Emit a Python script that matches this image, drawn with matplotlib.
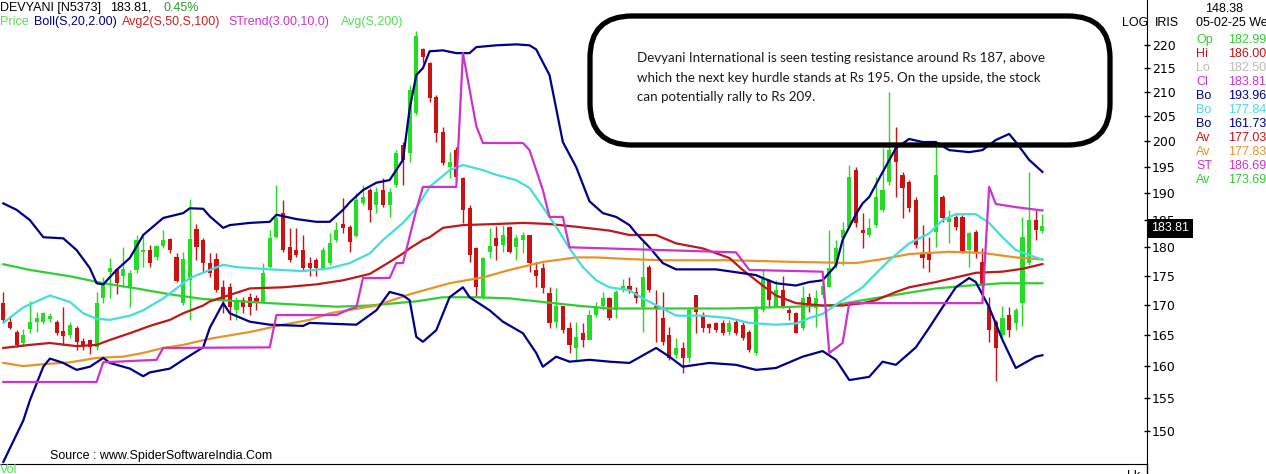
import matplotlib
matplotlib.use("agg")
import matplotlib.pyplot as plt
from matplotlib.patches import FancyBboxPatch
from matplotlib.lines import Line2D
from matplotlib.transforms import IdentityTransform
from matplotlib.ticker import NullLocator

# daily candles (oldest -> 05-02-25)
opens = [170.3, 167.2, 165.5, 163.7, 166.0, 167.2, 167.2, 167.7, 167.2, 165.6,
         165.0, 166.2, 164.0, 164.2, 163.0, 171.1, 175.7, 176.1, 175.0, 173.0,
         176.0, 179.2, 179.5, 178.2, 180.2, 181.5, 178.2, 170.3, 174.2, 183.3,
         181.3, 177.2, 178.0, 173.0, 173.0, 169.1, 170.8, 171.3, 171.1, 170.5,
         176.5, 181.8, 186.2, 180.0, 179.5, 179.5, 177.2, 177.7, 176.3, 177.2,
         181.3, 184.2, 183.7, 182.0, 188.1, 190.5, 187.7, 190.5, 187.7, 191.5,
         199.2, 197.6, 205.6, 219.0, 216.1, 208.9, 201.8, 194.9, 198.2, 192.8,
         187.1, 179.8, 171.1, 179.2, 181.6, 180.4, 183.7, 180.0, 181.3, 182.2,
         176.0, 176.3, 172.0, 167.2, 169.9, 166.2, 162.9, 165.3, 164.2, 168.3,
         169.9, 171.1, 169.1, 172.5, 173.3, 172.2, 169.6, 176.5, 169.9, 167.8,
         165.0, 161.8, 162.9, 161.3, 171.6, 168.3, 166.8, 166.9, 167.0, 165.5,
         167.2, 166.7, 165.5, 162.1, 169.1, 174.2, 169.6, 172.5, 169.1, 168.6,
         166.2, 171.3, 169.4, 171.6, 173.0, 176.9, 181.6, 183.7, 194.3, 183.1,
         182.2, 184.0, 186.8, 192.0, 198.6, 193.4, 192.0, 188.6, 178.9, 178.9,
         182.7, 189.2, 184.6, 185.5, 185.5, 179.5, 182.7, 177.4, 169.6, 167.2,
         165.0, 168.3, 167.0, 170.3, 177.2, 185.0, 182.99]
highs = [172.2, 168.2, 165.8, 166.0, 170.6, 168.8, 168.8, 168.6, 167.5, 169.6,
         167.2, 166.5, 164.5, 164.3, 172.2, 174.7, 178.1, 176.3, 180.0, 176.0,
         182.2, 182.0, 180.4, 180.4, 183.1, 181.6, 178.9, 179.1, 188.8, 184.2,
         181.6, 179.0, 179.0, 174.2, 173.7, 171.3, 171.3, 172.0, 171.6, 177.2,
         183.1, 191.5, 188.6, 183.5, 183.5, 182.2, 178.2, 178.1, 180.0, 182.5,
         184.6, 189.0, 184.0, 190.0, 191.5, 190.9, 191.1, 192.8, 190.9, 198.2,
         199.8, 211.5, 223.0, 219.4, 216.3, 209.4, 202.8, 197.8, 198.8, 193.0,
         187.7, 180.0, 178.2, 183.5, 183.9, 184.0, 183.9, 182.2, 182.7, 182.2,
         177.4, 177.2, 173.0, 172.9, 169.9, 167.2, 167.2, 167.0, 169.1, 170.5,
         172.2, 171.3, 172.5, 174.5, 174.8, 173.0, 181.3, 176.8, 172.5, 172.2,
         166.3, 164.5, 163.9, 169.4, 171.6, 168.8, 167.0, 167.2, 167.5, 167.5,
         167.5, 167.2, 165.8, 169.9, 176.0, 174.5, 174.2, 175.0, 169.9, 168.8,
         173.3, 172.0, 172.5, 174.2, 183.1, 181.3, 184.6, 195.3, 194.9, 186.2,
         185.3, 193.0, 198.6, 210.0, 202.8, 193.9, 192.4, 189.2, 184.0, 181.8,
         199.6, 189.6, 186.8, 185.9, 185.9, 182.7, 183.1, 179.8, 171.3, 167.5,
         169.9, 169.6, 169.4, 185.5, 193.9, 186.8, 186.00]
lows = [167.2, 166.0, 163.0, 163.2, 165.3, 165.5, 166.8, 167.2, 165.0, 163.4,
        164.5, 162.6, 162.6, 162.0, 162.6, 170.3, 171.1, 171.8, 173.0, 169.6,
        175.5, 176.5, 176.5, 177.7, 179.8, 178.9, 173.9, 170.0, 167.5, 177.7,
        175.5, 174.7, 172.2, 168.6, 167.5, 167.5, 168.6, 168.3, 169.1, 170.3,
        176.3, 181.6, 179.1, 177.4, 178.2, 176.0, 175.0, 175.0, 176.0, 176.8,
        181.0, 182.5, 179.1, 181.8, 187.7, 184.5, 186.2, 187.3, 185.5, 191.1,
        191.5, 195.9, 205.3, 216.1, 207.9, 199.8, 195.3, 192.8, 192.4, 184.3,
        177.4, 171.3, 171.0, 178.1, 177.7, 179.2, 178.9, 177.7, 178.9, 175.7,
        173.0, 172.0, 166.2, 166.2, 165.3, 162.1, 160.7, 163.0, 164.2, 168.0,
        169.1, 167.5, 167.8, 172.2, 172.0, 170.3, 165.5, 172.2, 163.9, 163.4,
        161.0, 161.3, 158.9, 160.7, 165.3, 165.5, 165.3, 165.5, 165.0, 165.0,
        165.0, 164.2, 162.3, 161.8, 168.8, 169.6, 169.6, 169.4, 167.5, 165.3,
        165.8, 168.8, 166.3, 171.1, 173.0, 176.3, 176.9, 183.5, 183.7, 179.8,
        181.8, 183.7, 186.4, 191.5, 189.2, 185.3, 186.4, 179.8, 176.3, 175.7,
        180.0, 184.6, 180.7, 183.1, 178.9, 176.5, 178.1, 172.0, 163.9, 157.6,
        164.5, 164.7, 165.8, 166.5, 176.8, 181.3, 182.50]
closes = [167.5, 166.2, 163.4, 165.0, 167.2, 167.8, 168.6, 168.2, 165.3, 164.8,
          166.6, 163.9, 163.0, 163.0, 170.3, 173.7, 176.3, 173.7, 176.1, 175.5,
          181.3, 179.5, 177.2, 180.2, 181.3, 179.5, 174.0, 178.0, 181.5, 180.0,
          177.2, 175.5, 172.5, 170.8, 169.6, 170.8, 169.6, 169.6, 170.3, 175.5,
          181.6, 185.3, 179.5, 177.7, 178.6, 176.3, 176.3, 176.3, 179.5, 180.7,
          183.1, 183.5, 181.0, 188.6, 189.2, 186.8, 190.1, 187.7, 190.1, 197.6,
          196.3, 210.4, 222.0, 217.3, 208.8, 201.6, 195.7, 195.9, 193.0, 186.8,
          178.6, 173.0, 178.1, 180.2, 180.2, 182.2, 179.2, 181.6, 182.2, 177.2,
          175.0, 172.8, 167.0, 169.9, 165.8, 163.4, 164.7, 164.2, 168.3, 169.9,
          171.1, 167.8, 172.2, 173.2, 172.5, 171.1, 174.8, 172.5, 169.4, 163.9,
          161.3, 162.9, 161.3, 169.1, 168.8, 166.2, 166.1, 165.8, 165.3, 167.0,
          165.3, 164.5, 162.6, 169.4, 174.5, 170.8, 172.5, 169.6, 168.6, 165.3,
          171.1, 169.6, 171.1, 173.3, 176.3, 179.8, 183.1, 192.9, 184.4, 182.5,
          183.5, 189.2, 190.5, 198.2, 195.9, 190.9, 187.1, 180.4, 178.1, 177.7,
          193.4, 185.3, 185.3, 183.7, 179.2, 182.5, 178.9, 173.3, 165.8, 162.9,
          167.8, 165.8, 169.1, 181.8, 185.0, 183.1, 183.81]

# indicator lines: (candle index, value)
bb_up_idx = [0, 2, 4, 6, 9, 11, 13, 14, 15, 17, 19, 21, 24, 27, 28, 30, 31, 33, 34, 37,
             40, 41, 44, 47, 49, 51, 52, 54, 56, 58, 60, 61, 62, 63, 64, 66, 68, 70, 71, 74,
             77, 79, 80, 82, 84, 86, 88, 90, 92, 94, 95, 97, 99, 101, 107, 110, 113, 114, 116, 119,
             121, 123, 125, 126, 128, 129, 130, 132, 134, 136, 138, 140, 142, 145, 147, 149, 151, 152, 154, 156]
bb_up = [188.0, 186.8, 184.9, 181.8, 181.6, 179.5, 176.3, 173.7, 173.5, 176.0, 178.1, 182.2, 185.3, 186.2, 187.1, 187.0, 185.6, 183.5, 184.0, 184.4,
         184.6, 185.9, 185.1, 184.6, 184.6, 186.8, 188.2, 190.5, 191.9, 192.4, 196.3, 206.5, 213.5, 215.0, 218.6, 218.8, 218.2, 218.2, 219.5, 219.9,
         220.1, 219.9, 219.0, 213.5, 199.8, 194.9, 188.4, 186.2, 185.5, 184.0, 182.5, 180.0, 177.2, 176.1, 176.1, 175.6, 175.1, 174.6, 173.7, 173.3,
         173.9, 174.2, 176.8, 181.3, 186.0, 188.0, 189.2, 193.9, 198.6, 200.4, 199.8, 199.8, 198.2, 197.8, 198.2, 200.2, 201.4, 199.8, 196.3, 193.96]
bb_mid_idx = [0, 3, 7, 10, 12, 14, 16, 19, 21, 24, 26, 28, 31, 33, 35, 40, 45, 49, 52, 55,
              57, 60, 62, 64, 67, 69, 72, 74, 77, 79, 81, 83, 85, 87, 89, 91, 94, 96, 99, 101,
              105, 109, 112, 116, 119, 121, 123, 126, 129, 130, 133, 136, 139, 141, 143, 146, 148, 150, 152, 155, 156]
bb_mid = [167.0, 169.6, 171.6, 170.5, 168.6, 167.7, 167.5, 168.2, 169.1, 171.1, 172.8, 174.6, 176.0, 176.9, 176.5, 176.1, 175.8, 176.3, 177.2, 178.9,
          181.3, 184.4, 187.1, 191.1, 194.3, 195.3, 194.3, 193.4, 192.4, 190.9, 187.3, 183.7, 179.8, 176.5, 174.2, 173.0, 172.5, 171.1, 169.4, 168.2,
          168.2, 167.8, 167.0, 166.7, 166.9, 167.8, 168.5, 170.8, 173.0, 174.2, 177.7, 180.7, 182.5, 184.9, 186.0, 186.0, 184.4, 181.8, 179.5, 178.2, 177.84]
bb_lo_idx = [0, 3, 4, 6, 7, 9, 11, 13, 15, 16, 19, 21, 22, 25, 27, 30, 31, 33, 34, 37,
             40, 45, 46, 53, 56, 58, 60, 61, 62, 63, 65, 67, 69, 70, 73, 75, 78, 80, 81, 83,
             85, 88, 91, 94, 98, 100, 102, 106, 110, 113, 116, 120, 123, 125, 127, 130, 132, 134, 137, 139,
             141, 143, 145, 146, 148, 150, 152, 155, 156]
bb_lo = [145.5, 151.6, 154.7, 159.9, 161.2, 160.5, 159.4, 159.9, 161.3, 160.5, 159.6, 158.4, 159.0, 159.6, 161.0, 163.0, 166.2, 170.3, 168.6, 167.2,
         166.7, 166.5, 167.0, 166.7, 169.1, 172.2, 171.6, 170.8, 164.7, 163.9, 165.8, 171.3, 173.0, 171.3, 169.1, 167.2, 165.3, 162.1, 159.9, 161.5,
         160.7, 161.0, 160.7, 160.5, 162.9, 161.5, 159.9, 160.5, 160.2, 159.4, 159.7, 161.5, 162.4, 161.0, 157.8, 158.3, 160.7, 160.2, 163.0, 166.2,
         169.6, 173.0, 174.6, 173.9, 169.6, 164.2, 159.7, 161.5, 161.73]
avg50_idx = [0, 4, 7, 11, 14, 16, 19, 22, 25, 27, 30, 31, 37, 42, 47, 51, 55, 58, 60, 61,
             63, 64, 66, 69, 74, 78, 82, 86, 91, 94, 98, 101, 105, 109, 111, 114, 116, 119, 123, 126,
             129, 131, 134, 136, 140, 143, 146, 150, 153, 156]
avg50 = [162.9, 163.4, 163.7, 163.2, 163.4, 164.2, 165.3, 166.5, 167.5, 168.6, 169.9, 170.6, 172.8, 173.0, 173.5, 174.2, 175.3, 177.4, 178.9, 179.8,
         181.3, 181.8, 183.5, 184.0, 184.2, 184.4, 184.2, 183.7, 183.0, 182.2, 182.2, 180.7, 179.8, 178.1, 176.0, 173.3, 171.6, 170.3, 169.9, 169.9,
         170.3, 170.8, 172.2, 173.0, 173.9, 174.7, 175.5, 175.7, 176.2, 177.03]
avg100_idx = [0, 3, 6, 10, 14, 18, 21, 24, 27, 31, 37, 42, 46, 49, 56, 61, 67, 72, 76, 81,
              86, 89, 94, 99, 109, 119, 128, 132, 136, 142, 147, 152, 156]
avg100 = [160.5, 160.0, 160.3, 160.6, 161.3, 161.5, 162.1, 162.9, 163.4, 164.4, 165.5, 166.7, 167.5, 168.6, 169.9, 171.8, 173.7, 174.7, 176.0, 177.4,
          178.2, 178.2, 177.9, 177.7, 177.7, 177.4, 177.2, 177.9, 178.8, 179.2, 179.0, 178.2, 177.83]
avg200_idx = [0, 4, 10, 15, 20, 25, 30, 40, 50, 55, 62, 66, 71, 76, 81, 86, 91, 99, 109, 119,
              125, 129, 135, 140, 145, 150, 156]
avg200 = [177.0, 176.0, 174.9, 173.7, 172.8, 171.8, 171.0, 170.3, 169.7, 169.9, 170.6, 171.3, 171.3, 171.1, 170.5, 169.9, 169.4, 169.4, 169.4, 169.7,
          170.0, 170.8, 171.9, 172.8, 173.3, 173.7, 173.69]
st_idx = [0, 14, 15, 23, 24, 40, 41, 50, 52, 53, 54, 58, 59, 60, 62, 63, 68, 69, 71, 72,
          78, 79, 81, 82, 84, 85, 110, 112, 123, 124, 126, 127, 147, 148, 149, 152, 156]
strend = [157.5, 157.5, 160.6, 161.0, 162.9, 163.0, 168.3, 168.3, 169.3, 169.6, 174.6, 174.6, 177.2, 177.2, 186.8, 191.1, 191.1, 218.2, 203.0, 199.6,
          199.6, 198.2, 190.5, 185.5, 185.5, 180.0, 179.1, 176.0, 175.7, 162.1, 163.7, 170.3, 170.3, 191.1, 187.9, 187.3, 186.69]

yticks = [150, 155, 160, 165, 170, 175, 180, 185, 190, 195, 200, 205, 210, 215, 220]

panel_labels = ["Op", "Hi", "Lo", "Cl", "Bo", "Bo", "Bo", "Av", "Av", "ST", "Av"]
panel_values = ["182.99", "186.00", "182.50", "183.81", "193.96", "177.84", "161.73",
                "177.03", "177.83", "186.69", "173.69"]
panel_colors = ["#33cc33", "#cc1111", "#bbbbbb", "#cc33cc", "#000088", "#44dddd", "#000088",
                "#cc1111", "#e8922a", "#cc33cc", "#33cc33"]

GREEN = "#22dd22"
RED = "#cc1111"
W, H = 1266, 474

fig = plt.figure(figsize=(W / 100, H / 100), dpi=100)
ax = fig.add_axes([0, 10 / H, 1147 / W, 464 / H])
ax.set_yscale("log")

# candles
x = list(range(len(opens)))
cols = [GREEN if c >= o else RED for o, c in zip(opens, closes)]
ax.vlines(x, lows, highs, colors=cols, lw=1, zorder=2)
ax.bar(x, [max(abs(c - o), 0.15) for o, c in zip(opens, closes)],
       bottom=[min(o, c) for o, c in zip(opens, closes)],
       width=0.62, color=cols, zorder=3)

# indicators
ax.plot(avg200_idx, avg200, color="#33cc33", lw=1.6, zorder=4)
ax.plot(avg100_idx, avg100, color="#e8922a", lw=1.6, zorder=4)
ax.plot(avg50_idx, avg50, color="#c01818", lw=1.6, zorder=4)
ax.plot(bb_mid_idx, bb_mid, color="#44dddd", lw=1.6, zorder=4)
ax.plot(bb_up_idx, bb_up, color="#000088", lw=1.6, zorder=4)
ax.plot(bb_lo_idx, bb_lo, color="#000088", lw=1.6, zorder=4)
ax.plot(st_idx, strend, color="#cc33cc", lw=1.6, zorder=4)

ax.set_xlim(-0.5, 171.7)
ax.set_ylim(145.2, 230.0)
ax.yaxis.tick_right()
ax.yaxis.set_minor_locator(NullLocator())
ax.set_yticks(yticks)
ax.set_yticklabels([str(t) for t in yticks])
ax.tick_params(axis="y", direction="inout", length=5, width=1, pad=1, labelsize=9)
ax.set_xticks([])
for s in ("top", "left"):
    ax.spines[s].set_visible(False)
ax.spines["right"].set_color("black")
ax.spines["bottom"].set_color("black")
fig.add_artist(Line2D([1147 / W] * 2, [0, 10 / H], color="black", lw=1,
                      transform=fig.transFigure))


def ptext(px, py, s, **kw):
    kw.setdefault("fontsize", 9)
    kw.setdefault("family", "Liberation Sans")
    return fig.text(px / W, 1 - py / H, s, va="center", ha="left", **kw)


# legend at top left
ptext(0, 8, "DEVYANI [N5373]")
ptext(110, 8, "183.81,")
ptext(164, 8, "0.45%", color="#2a9a2a")
ptext(0, 22, "Price", color="#55dd55")
ptext(34, 22, "Boll(S,20,2.00)", color="#000088")
ptext(122, 22, "Avg2(S,50,S,100)", color="#cc2222")
ptext(228, 22, "STrend(3.00,10,0)", color="#cc33cc")
ptext(341, 22, "Avg(S,200)", color="#55dd55")

# right panel
ptext(1122, 23, "LOG")
ptext(1155, 23, "IRIS")
ptext(1205, 9, "148.38")
ptext(1196, 23, "05-02-25 Wed")
row_y = [40, 54, 68, 82, 96, 110, 124, 138, 152, 166, 180]
for lab, val, c, yy in zip(panel_labels, panel_values, panel_colors, row_y):
    ptext(1196, yy, lab, color=c)
    ptext(1228, yy, val, color=c)
ptext(1151, 228, "183.81", color="white",
      bbox=dict(facecolor="black", edgecolor="none", pad=2.5))

# bottom
ptext(50, 456, "Source : www.SpiderSoftwareIndia.Com")
ptext(0, 470, "Vol", color="#55dd55")
ptext(1127, 476, "Lk")

# commentary box
box = FancyBboxPatch((590, H - 145), 520, 129, boxstyle="round,pad=0,rounding_size=42",
                     transform=IdentityTransform(), fill=False, lw=3.8, ec="black", zorder=10)
fig.add_artist(box)
note = ["Devyani International is seen testing resistance around Rs 187, above",
        "which the next key hurdle stands at Rs 195. On the upside, the stock",
        "can potentially rally to Rs 209."]
for i, line in enumerate(note):
    ptext(637, 58 + 19.5 * i, line, family="Lato", fontsize=9.6, color="#1a1a1a")

fig.savefig("out.png", dpi=100)
